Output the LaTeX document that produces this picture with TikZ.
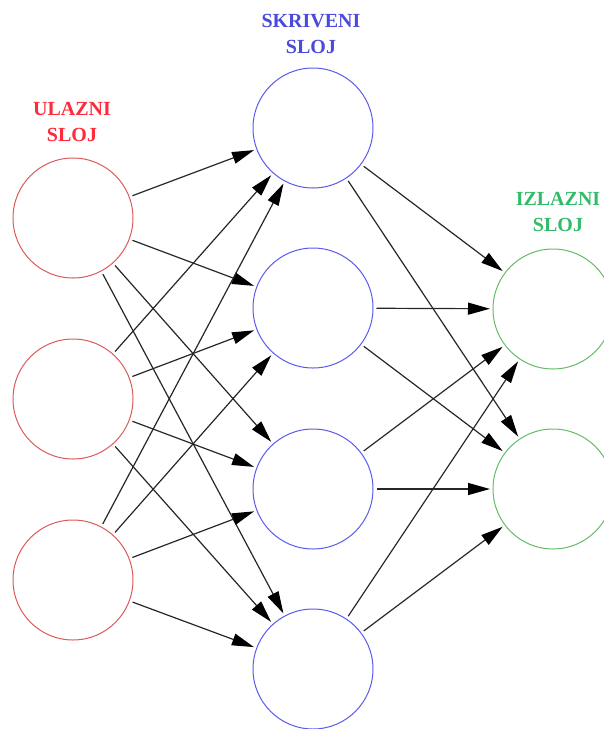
\documentclass[tikz,border=0pt]{standalone}
\usepackage{fontspec}
\setmainfont{Liberation Serif}
\usetikzlibrary{arrows.meta}
\definecolor{inred}{HTML}{DD5A5A}
\definecolor{hidblue}{HTML}{5A5AEE}
\definecolor{outgreen}{HTML}{66BB66}
\definecolor{txtred}{HTML}{FF2A3A}
\definecolor{txtblue}{HTML}{4A4ADD}
\definecolor{txtgreen}{HTML}{33BB6A}
\begin{document}
\begin{tikzpicture}[x=1pt,y=-1pt,
  neuron/.style={circle,minimum size=120pt,inner sep=0pt,line width=1pt,fill=white},
  inneuron/.style={neuron,draw=inred},
  hidneuron/.style={neuron,draw=hidblue},
  outneuron/.style={neuron,draw=outgreen},
  layerlabel/.style={font=\bfseries\fontsize{20}{26}\selectfont,align=center,inner sep=0pt},
  link/.style={draw=black!85,line width=1.2pt,shorten <=3pt,shorten >=2.5pt,-{Triangle[length=22pt,width=12pt,color=black,fill=black]}}]
\useasboundingbox (0,0) rectangle (604,729);
\node[inneuron] (i1) at (73,218) {};
\node[inneuron] (i2) at (73,399) {};
\node[inneuron] (i3) at (73,580) {};
\node[hidneuron] (h1) at (313,128) {};
\node[hidneuron] (h2) at (313,308) {};
\node[hidneuron] (h3) at (313,489) {};
\node[hidneuron] (h4) at (313,669) {};
\node[outneuron] (o1) at (553,309) {};
\node[outneuron] (o2) at (553,489) {};
\node[layerlabel,text=txtred] (li) at (72,122) {ULAZNI\\SLOJ};
\node[layerlabel,text=txtblue] (lh) at (311,34) {SKRIVENI\\SLOJ};
\node[layerlabel,text=txtgreen] (lo) at (558,212) {IZLAZNI\\SLOJ};
\foreach \i in {1,2,3}{
  \foreach \h in {1,2,3,4}{
    \draw[link] (i\i) -- (h\h);
  }
}
\foreach \h in {1,2,3,4}{
  \foreach \o in {1,2}{
    \draw[link] (h\h) -- (o\o);
  }
}
\end{tikzpicture}
\end{document}
